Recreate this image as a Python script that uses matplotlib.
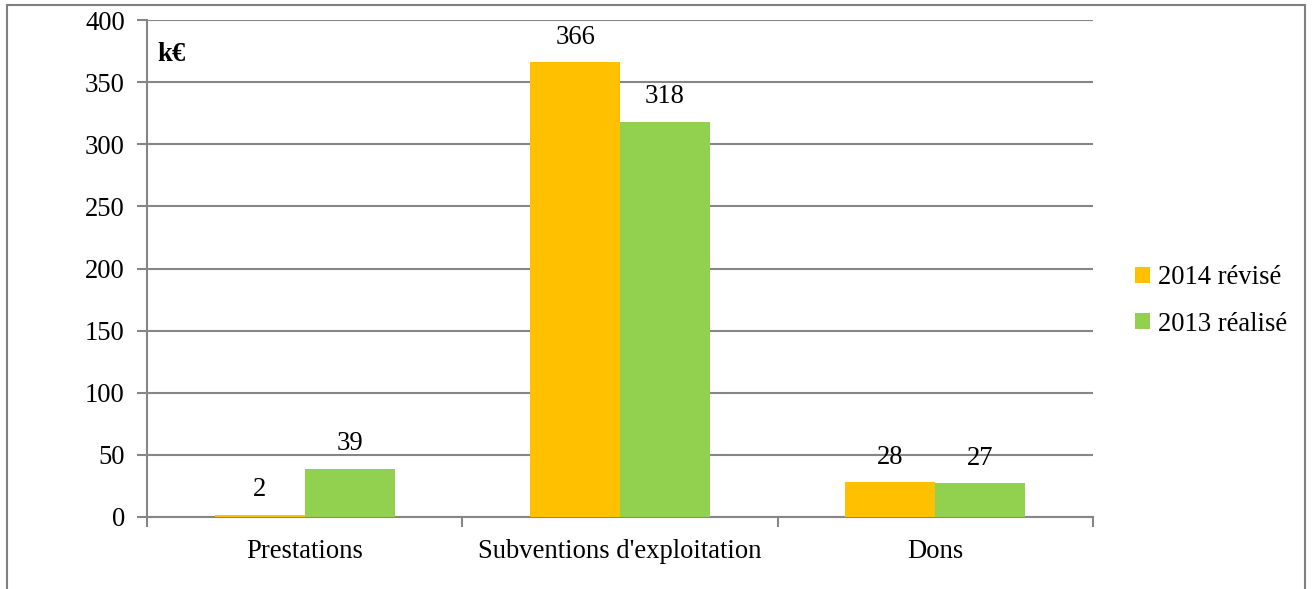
import numpy as np
import matplotlib.pyplot as plt
from matplotlib.patches import Rectangle

plt.rcParams['font.family'] = ['Liberation Serif', 'DejaVu Serif']

categories = ['Prestations', "Subventions d'exploitation", 'Dons']
revise_2014 = [2, 366, 28]
realise_2013 = [39, 318, 27]
series_names = ['2014 révisé', '2013 réalisé']
yticks = [0, 50, 100, 150, 200, 250, 300, 350, 400]

orange = '#FFC000'
green = '#92D050'
grey = '#868686'
fs = 19.2

fig = plt.figure(figsize=(13.13, 5.89), dpi=100)
# outer frame around the chart
fig.add_artist(Rectangle((7/1313, -0.05), 1298/1313, 1.05 - 5/589, transform=fig.transFigure,
                         fill=False, edgecolor='#7f7f7f', linewidth=1.5))

ax = fig.add_axes([147/1313, 1 - 517/589, 946/1313, 497/589])

x = np.arange(len(categories))
w = 0.285
b1 = ax.bar(x - w/2, revise_2014, w, color=orange, label=series_names[0], zorder=3)
b2 = ax.bar(x + w/2, realise_2013, w, color=green, label=series_names[1], zorder=3)

for bars, vals in ((b1, revise_2014), (b2, realise_2013)):
    for r, v in zip(bars, vals):
        ax.text(r.get_x() + r.get_width()/2, v + 10, str(v), ha='center', va='bottom',
                fontsize=fs, zorder=4)

ax.set_xlim(-0.5, 2.5)
ax.set_ylim(0, 400)
ax.set_yticks(yticks)
ax.set_yticklabels([str(t) for t in yticks], fontsize=fs)
ax.yaxis.grid(True, color=grey, linewidth=1.5, zorder=0)
ax.set_axisbelow(True)

ax.set_xticks(x)
ax.set_xticklabels(categories, fontsize=fs)
ax.tick_params(axis='x', length=0, pad=16)
ax.set_xticks([-0.5, 0.5, 1.5, 2.5], minor=True)
ax.tick_params(axis='x', which='minor', length=7, width=1.5, color=grey, direction='out')
ax.tick_params(axis='y', length=7, width=1.5, color=grey, direction='out', pad=9)

for s in ('top', 'right'):
    ax.spines[s].set_visible(False)
for s in ('left', 'bottom'):
    ax.spines[s].set_color(grey)
    ax.spines[s].set_linewidth(1.5)

ax.text(10/946, 0.955, 'k€', transform=ax.transAxes, fontsize=fs, fontweight='bold',
        ha='left', va='top')

fig.legend(handles=[b1, b2], labels=series_names, loc='center left',
           bbox_to_anchor=(1111/1313, 1 - 301/589), frameon=False, fontsize=fs,
           handlelength=0.55, handleheight=0.55, handletextpad=0.3, labelspacing=0.8)

fig.savefig('out.png', dpi=100, facecolor='white')
